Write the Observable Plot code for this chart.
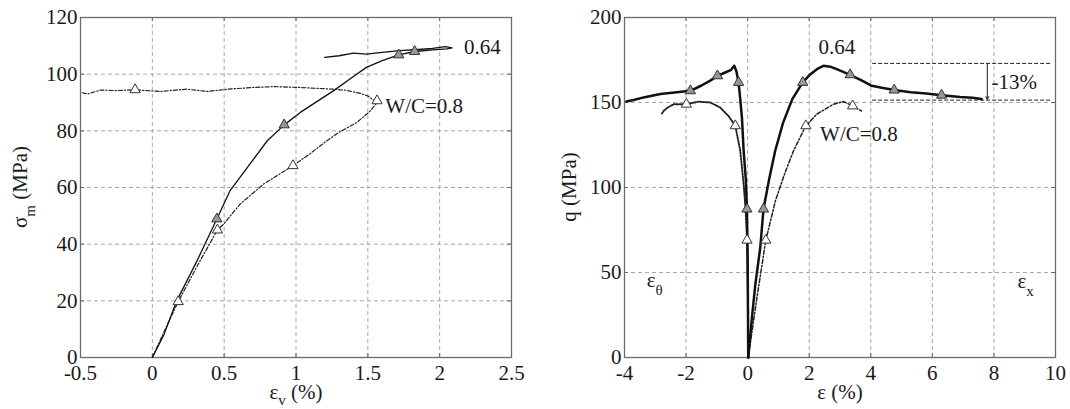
<!DOCTYPE html>
<html><head><meta charset="utf-8">
<script src="https://cdn.jsdelivr.net/npm/d3@7"></script>
<script src="https://cdn.jsdelivr.net/npm/@observablehq/plot@0.6"></script>
<style>
body{margin:0;background:#fff;}
#wrap{position:relative;width:1070px;height:409px;font-family:"Liberation Serif",serif;background:#fff;}
#wrap svg{position:absolute;top:0;overflow:visible;}
</style></head><body><div id="wrap"></div>
<script>
// ---------- Left panel: sigma_m vs eps_v ----------
const leftXTicks = [-0.5, 0, 0.5, 1, 1.5, 2, 2.5];
const leftYTicks = [0, 20, 40, 60, 80, 100, 120];
// W/C = 0.64 (solid)
const left064 = [[0,0],[0.08,8],[0.17,20],[0.31,34],[0.449,48.9],[0.54,58.8],[0.68,68.3],[0.80,76.5],[0.918,82.1],[1.03,86.5],[1.15,90.5],[1.26,94.1],[1.38,98.5],[1.49,102.4],[1.6,104.8],[1.715,106.8],[1.826,108],[1.95,108.6],[2.05,108.9],[2.087,109.3],[2.04,109.7],[1.95,109.1],[1.85,108.7],[1.72,108.3],[1.6,107.7],[1.49,107.1],[1.4,107.4],[1.3,106.5],[1.2,105.9]];
const left064Tri = [[0.449,48.9],[0.918,82.1],[1.715,106.8],[1.826,108]];
// W/C = 0.8 (dashed)
const left080 = [[0,0],[0.09,10],[0.18,19.7],[0.32,33],[0.453,45],[0.495,47],[0.61,54.1],[0.774,61.2],[0.979,67.7],[1.1,72],[1.215,76.5],[1.3,79.5],[1.425,83],[1.517,87],[1.564,90],[1.50,92.3],[1.45,93.2],[1.35,94.3],[1.26,94.7],[1.03,95.3],[0.85,95.6],[0.70,95.3],[0.55,94.8],[0.38,93.9],[0.24,94.7],[0.05,93.9],[-0.12,94.5],[-0.25,94.2],[-0.36,94.4],[-0.45,93],[-0.5,93.6]];
const left080Tri = [[0.18,19.7],[0.453,45],[0.979,67.7],[1.564,90.6],[-0.12,94.5]];
const leftTexts = [{x:2.17, y:109.4, t:"0.64"},{x:1.622, y:88.6, t:"W/C=0.8"}];

// ---------- Right panel: q vs eps ----------
const rightXTicks = [-4, -2, 0, 2, 4, 6, 8, 10];
const rightYTicks = [0, 50, 100, 150, 200];
const right064Lat = [[0.02,0],[0.01,30],[0,60],[-0.023,87.3],[-0.06,105],[-0.13,121.6],[-0.185,141],[-0.24,152],[-0.295,161.8],[-0.36,168],[-0.434,171.6],[-0.55,169],[-0.75,167.5],[-0.98,165.7],[-1.2,163],[-1.5,160],[-1.86,156.9],[-2.3,156],[-2.833,155],[-3.38,153],[-3.7,151.5],[-3.94,150.6]];
const right064Ax = [[0.02,0],[0.14,23.5],[0.25,43],[0.41,64.7],[0.515,87.3],[0.7,105],[0.895,121.6],[1.15,138],[1.45,152],[1.79,161.8],[2.0,166],[2.25,169.6],[2.46,171.6],[2.7,171],[2.895,169.6],[3.33,166.3],[3.7,163],[4.03,159.8],[4.4,158.5],[4.76,157.3],[5.3,156],[5.8,155.3],[6.3,154.3],[6.9,153.2],[7.3,152.8],[7.6,152]];
const right064Tri = [[-0.023,87.3],[-0.295,161.8],[-0.98,165.7],[-1.86,156.9],[0.515,87.3],[1.79,161.8],[3.33,166.3],[4.76,157.3],[6.3,154.3]];
const right080Lat = [[0.02,0],[0.01,35],[-0.02,69],[-0.07,88],[-0.13,102],[-0.24,121.6],[-0.40,136.3],[-0.62,142],[-0.89,147],[-1.21,150],[-1.6,150.5],[-1.99,149],[-2.40,149],[-2.6,147],[-2.73,145],[-2.8,143]];
const right080Ax = [[0.02,0],[0.3,35],[0.59,69],[0.9,92],[1.2,108],[1.49,121.6],[1.89,136.3],[2.25,143.2],[2.79,149],[3.11,150.6],[3.41,148],[3.70,145]];
const right080Tri = [[-0.02,69],[-0.40,136.3],[-1.99,149],[0.59,69],[1.89,136.3],[3.41,148]];
const rightTexts = [{x:2.30, y:182.4, t:"0.64"},{x:2.353, y:131.4, t:"W/C=0.8"},{x:7.92, y:161.8, t:"-13%"}];
const dropLevels = [173, 151.4];   // dashed reference levels of the -13% drop
const dropRange = [4.06, 9.86];
const dropArrowX = 7.785;

const TXT = "#1a1a1a";
const FONT = "Liberation Serif";
const fmt = d => String(d);
const X = d => d[0], Y = d => d[1];

function baseMarks(xt, yt, xd, yd, tx, ty) {
  return [
    Plot.ruleX(xt.filter(v => v > xd[0] && v < xd[1]), {stroke:"#a8a8a8", strokeDasharray:"4,3", strokeWidth:1}),
    Plot.ruleY(yt.filter(v => v > yd[0] && v < yd[1]), {stroke:"#a8a8a8", strokeDasharray:"4,3", strokeWidth:1}),
    Plot.ruleX(xt, {y1: yd[0], y2: yd[0] + ty, stroke:"#666"}),
    Plot.ruleX(xt, {y1: yd[1] - ty, y2: yd[1], stroke:"#666"}),
    Plot.ruleY(yt, {x1: xd[0], x2: xd[0] + tx, stroke:"#666"}),
    Plot.ruleY(yt, {x1: xd[1] - tx, x2: xd[1], stroke:"#666"}),
    Plot.frame({stroke:"#6a6a6a", strokeWidth:1.3}),
    Plot.axisX(xt, {tickSize:0, tickPadding:8, tickFormat: fmt, label:null, fill:TXT, fontSize:21}),
    Plot.axisY(yt, {tickSize:0, tickPadding:3, tickFormat: fmt, label:null, fill:TXT, fontSize:21})
  ];
}

const leftPlot = Plot.plot({
  width: 540, height: 409,
  marginLeft: 80, marginRight: 29, marginTop: 17, marginBottom: 52,
  style: {fontFamily: FONT, fontSize: "21px", color: TXT, background: "transparent"},
  x: {domain: [-0.5, 2.5]},
  y: {domain: [0, 120]},
  marks: [
    ...baseMarks(leftXTicks, leftYTicks, [-0.5, 2.5], [0, 120], 0.03, 1.4),
    Plot.line(left080, {x: X, y: Y, stroke:"#222", strokeWidth:1.2, strokeDasharray:"4,2,1.2,2"}),
    Plot.line(left064, {x: X, y: Y, stroke:"#111", strokeWidth:1.3}),
    Plot.dot(left064Tri, {x: X, y: Y, symbol:"triangle", r:3.8, fill:"#979797", stroke:"#333", strokeWidth:1}),
    Plot.dot(left080Tri, {x: X, y: Y, symbol:"triangle", r:3.8, fill:"white", stroke:"#333", strokeWidth:1}),
    Plot.text(leftTexts, {x:"x", y:"y", text:"t", textAnchor:"start", fontSize:21, fill:TXT})
  ]
});

const rightPlot = Plot.plot({
  width: 530, height: 409,
  marginLeft: 84, marginRight: 15, marginTop: 17, marginBottom: 52,
  style: {fontFamily: FONT, fontSize: "21px", color: TXT, background: "transparent"},
  x: {domain: [-4, 10]},
  y: {domain: [0, 200]},
  marks: [
    ...baseMarks(rightXTicks, rightYTicks, [-4, 10], [0, 200], 0.13, 2.4),
    Plot.ruleY(dropLevels, {x1: dropRange[0], x2: dropRange[1], stroke:"#222", strokeDasharray:"4,2", strokeWidth:1}),
    Plot.arrow([0], {x1: dropArrowX, x2: dropArrowX, y1: dropLevels[0], y2: dropLevels[1] + 0.5, stroke:"#333", strokeWidth:1.1, headLength:4, bend:0}),
    Plot.line(right080Lat, {x: X, y: Y, stroke:"#222", strokeWidth:1.9, strokeDasharray:"1.5,1.5"}),
    Plot.line(right080Ax, {x: X, y: Y, stroke:"#222", strokeWidth:1.5, strokeDasharray:"4,2,1.5,2"}),
    Plot.line(right064Lat, {x: X, y: Y, stroke:"#111", strokeWidth:2.5}),
    Plot.line(right064Ax, {x: X, y: Y, stroke:"#111", strokeWidth:2.5}),
    Plot.dot(right064Tri, {x: X, y: Y, symbol:"triangle", r:3.8, fill:"#979797", stroke:"#333", strokeWidth:1}),
    Plot.dot(right080Tri, {x: X, y: Y, symbol:"triangle", r:3.8, fill:"white", stroke:"#333", strokeWidth:1}),
    Plot.text(rightTexts, {x:"x", y:"y", text:"t", textAnchor:"start", fontSize:21, fill:TXT})
  ]
});

const wrap = document.getElementById("wrap");
leftPlot.style.left = "0px";
rightPlot.style.left = "540px";
wrap.appendChild(leftPlot);
wrap.appendChild(rightPlot);

// Labels with subscripts (real text)
function subLabel(svg, x, y, parts, rotate, anchor, sh) {
  const d = sh || 8;
  const t = d3.select(svg).append("text")
    .attr("transform", `translate(${x},${y})` + (rotate ? ` rotate(${rotate})` : ""))
    .attr("text-anchor", anchor || "middle")
    .attr("font-family", FONT).attr("font-size", 21).attr("fill", TXT);
  let shift = 0;
  for (const [s, sub] of parts) {
    const ts = t.append("tspan").text(s);
    if (sub) { ts.attr("font-size", 15).attr("dy", d - shift); shift = d; }
    else { ts.attr("dy", -shift); shift = 0; }
  }
}
subLabel(leftPlot, 27, 187, [["σ",false],["m",true],[" (MPa)",false]], -90);
subLabel(leftPlot, 296, 399, [["ε",false],["v",true],[" (%)",false]], 0, "middle", 6);
subLabel(rightPlot, 36, 187, [["q (MPa)",false]], -90);
subLabel(rightPlot, 300, 399, [["ε (%)",false]]);
const rx = rightPlot.scale("x"), ry = rightPlot.scale("y");
subLabel(rightPlot, rx.apply(-3.264), ry.apply(41), [["ε",false],["θ",true]], 0, "start");
subLabel(rightPlot, rx.apply(8.78), ry.apply(40.8), [["ε",false],["x",true]], 0, "start");
</script>
</body></html>
